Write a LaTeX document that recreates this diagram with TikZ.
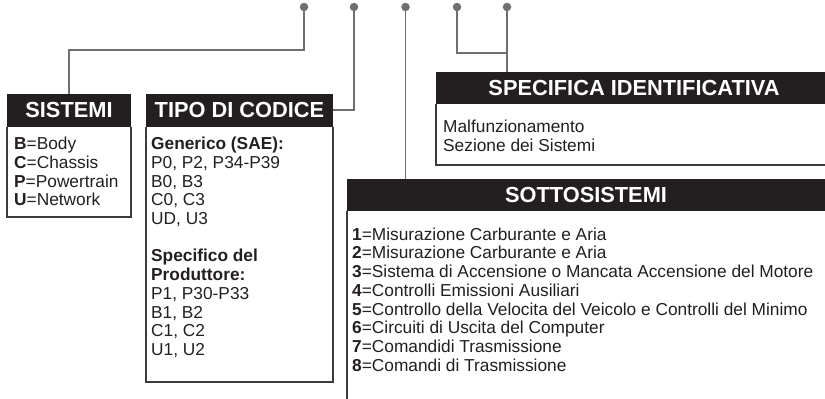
\documentclass[tikz,border=0pt]{standalone}
\usepackage{fontspec}
\setmainfont{Liberation Sans}
\definecolor{hdrblack}{HTML}{231F20}
\definecolor{conngray}{HTML}{6F6F72}
\definecolor{boxgray}{HTML}{3C3C3C}
\definecolor{txt}{HTML}{231F20}
\begin{document}
\begin{tikzpicture}[x=1pt,y=-1pt,
  hdr/.style={fill=hdrblack, text=white, font=\fontsize{21.8}{24}\selectfont\bfseries,
    anchor=north west, inner sep=0pt, outer sep=0pt},
  body/.style={anchor=north west, inner sep=0pt, align=left, text=txt,
    font=\fontsize{17.3}{18.7}\selectfont},
  frame/.style={draw=boxgray, line width=1.3pt},
  conn/.style={draw=conngray, line width=1.4pt},
  dot/.style={circle, fill=conngray, inner sep=0pt, minimum size=8.5pt}]
\useasboundingbox (0,0) rectangle (825,399);

% dots
\node[dot] (d1) at (304,7) {};
\node[dot] (d2) at (354,7) {};
\node[dot] (d3) at (405.5,7) {};
\node[dot] (d4) at (457,7) {};
\node[dot] (d5) at (507,7) {};

% headers
\node[hdr, minimum width=124pt, minimum height=33pt] (sis) at (7,93.5) {SISTEMI};
\node[hdr, minimum width=187pt, minimum height=33pt] (tipo) at (146,93.5) {TIPO DI CODICE};
\node[hdr, minimum width=396pt, minimum height=31.5pt] (spec) at (436,72) {SPECIFICA IDENTIFICATIVA};
\node[hdr, minimum width=478pt, minimum height=32pt] (sotto) at (347,179) {SOTTOSISTEMI};

% frames
\draw[frame] (sis.south west) -- (7,217) -- (131,217) -- (sis.south east);
\draw[frame] (tipo.south west) -- (146,382) -- (333,382) -- (tipo.south east);
\draw[frame] (spec.south west) -- (436,165) -- (830,165);
\draw[frame] (sotto.south west) -- (347,405);

% body texts
\node[body] (sistxt) at (14,136.5) {\rule{0pt}{13pt}\textbf{B}=Body\\ \textbf{C}=Chassis\\ \textbf{P}=Powertrain\\ \textbf{U}=Network};
\node[body] (tipotxt) at (151,136.5) {\rule{0pt}{13pt}\textbf{Generico (SAE):}\\ P0, P2, P34-P39\\ B0, B3\\ C0, C3\\ UD, U3\\[18.7pt]
\textbf{Specifico del}\\ \textbf{Produttore:}\\ P1, P30-P33\\ B1, B2\\ C1, C2\\ U1, U2};
\node[body] (spectxt) at (443,119.5) {\rule{0pt}{13pt}Malfunzionamento\\ Sezione dei Sistemi};
\node[body] (sottotxt) at (352,227) {\rule{0pt}{13pt}\textbf{1}=Misurazione Carburante e Aria\\
\textbf{2}=Misurazione Carburante e Aria\\
\textbf{3}=Sistema di Accensione o Mancata Accensione del Motore\\
\textbf{4}=Controlli Emissioni Ausiliari\\
\textbf{5}=Controllo della Velocita del Veicolo e Controlli del Minimo\\
\textbf{6}=Circuiti di Uscita del Computer\\
\textbf{7}=Comandidi Trasmissione\\
\textbf{8}=Comandi di Trasmissione};

% connectors
\coordinate (k1) at (304,50);
\coordinate (k2) at (507,53);
\draw[conn] (d1.center) -- (k1) -| (sis.north);
\draw[conn] (d2.center) |- (tipo.east);
\draw[conn] (d3.center) -- (d3 |- sotto.north);
\draw[conn] (d4.center) |- (k2);
\draw[conn] (d5.center) -- (d5 |- spec.north);
\end{tikzpicture}
\end{document}
